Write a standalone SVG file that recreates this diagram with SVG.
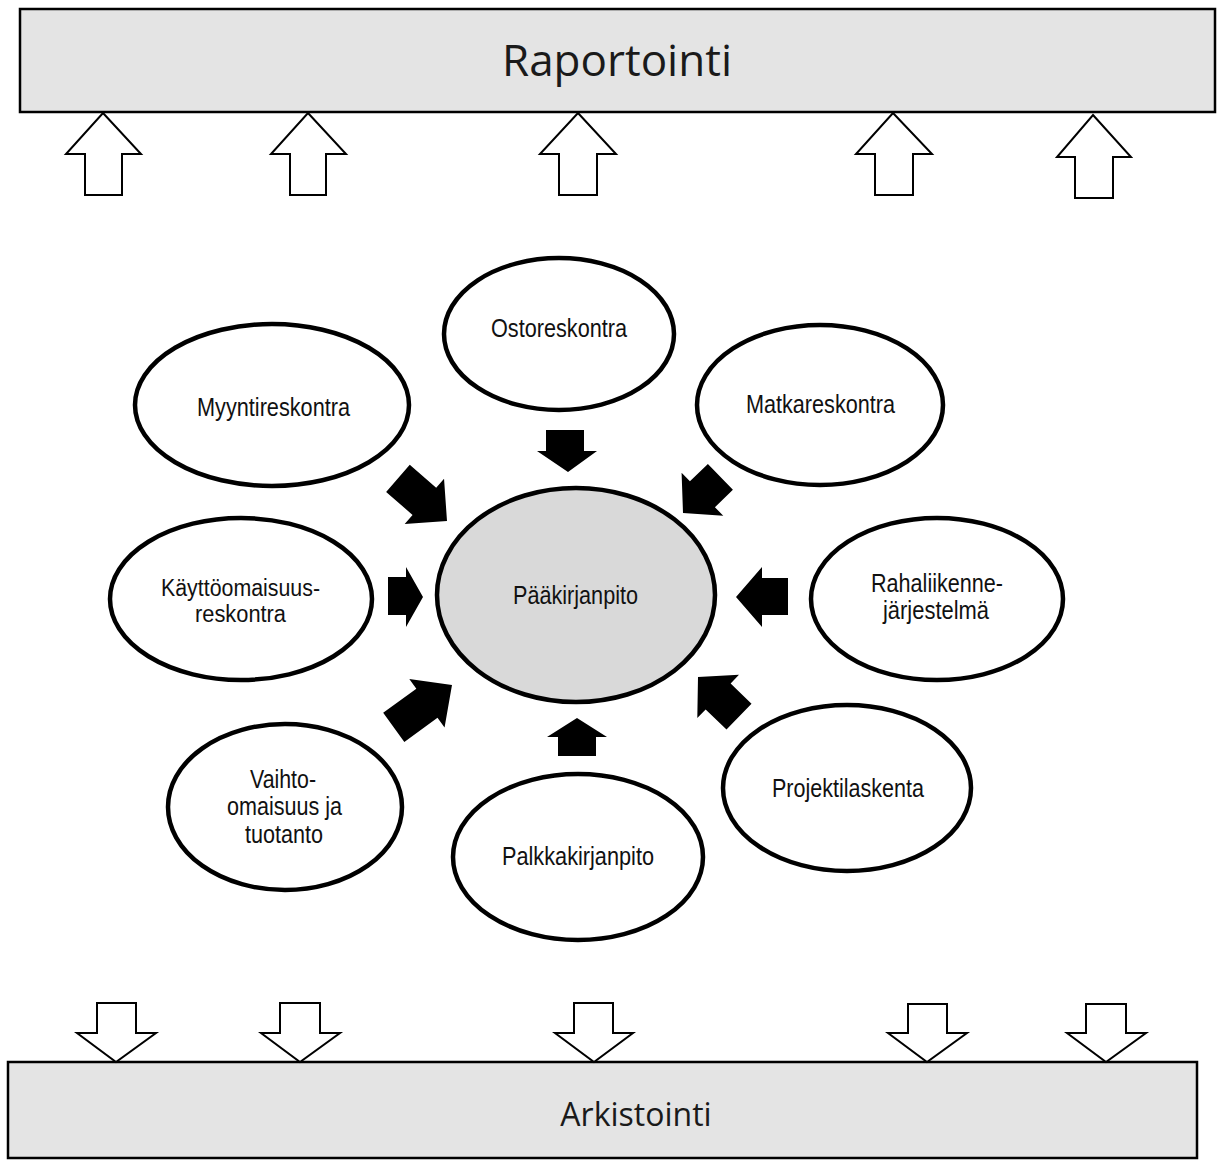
<svg xmlns="http://www.w3.org/2000/svg" width="1219" height="1167" viewBox="0 0 1219 1167">
  <style>
    .band { fill: #e4e4e4; stroke: #000; stroke-width: 2.5; }
    .band-label { font-family: "Open Sans", "Liberation Sans", sans-serif; fill: #1a1a1a; text-anchor: middle; }
    .hollow { fill: #fff; stroke: #000; stroke-width: 2; stroke-linejoin: miter; }
    .node { fill: #fff; stroke: #000; stroke-width: 4.5; }
    .hub { fill: #d9d9d9; stroke: #000; stroke-width: 4.5; }
    .label { font-family: "Liberation Sans", Arial, sans-serif; font-size: 25px; fill: #111; text-anchor: middle; }
    .label.tight { font-size: 23px; }
    .solid { fill: #000; stroke: none; }
  </style>

  <!-- top band -->
  <g id="raportointi">
    <rect class="band" x="20" y="9" width="1195" height="103"/>
    <text class="band-label" x="617" y="76" font-size="44">Raportointi</text>
  </g>

  <!-- bottom band -->
  <g id="arkistointi">
    <rect class="band" x="8" y="1062" width="1189" height="96"/>
    <text class="band-label" x="636" y="1126" font-size="32">Arkistointi</text>
  </g>

  <!-- hub -->
  <g id="paakirjanpito">
    <ellipse class="hub" cx="576" cy="595" rx="139" ry="107"/>
    <text class="label" x="575.5" y="604" textLength="125" lengthAdjust="spacingAndGlyphs">Pääkirjanpito</text>
  </g>

  <!-- satellite ledgers -->
  <g id="ostoreskontra">
    <ellipse class="node" cx="559" cy="334" rx="115" ry="76"/>
    <text class="label" x="559" y="337" textLength="136" lengthAdjust="spacingAndGlyphs">Ostoreskontra</text>
  </g>
  <g id="myyntireskontra">
    <ellipse class="node" cx="272" cy="405" rx="137" ry="81"/>
    <text class="label" x="273.5" y="416" textLength="153" lengthAdjust="spacingAndGlyphs">Myyntireskontra</text>
  </g>
  <g id="matkareskontra">
    <ellipse class="node" cx="820" cy="405" rx="123" ry="80"/>
    <text class="label" x="820.5" y="413" textLength="149" lengthAdjust="spacingAndGlyphs">Matkareskontra</text>
  </g>
  <g id="kayttoomaisuusreskontra">
    <ellipse class="node" cx="241" cy="599" rx="131" ry="81"/>
    <text class="label tight" x="240.5" y="596" textLength="159" lengthAdjust="spacingAndGlyphs">Käyttöomaisuus-</text>
    <text class="label tight" x="240.5" y="622" textLength="91" lengthAdjust="spacingAndGlyphs">reskontra</text>
  </g>
  <g id="rahaliikennejarjestelma">
    <ellipse class="node" cx="937" cy="599" rx="126" ry="81"/>
    <text class="label" x="937" y="592" textLength="132" lengthAdjust="spacingAndGlyphs">Rahaliikenne-</text>
    <text class="label" x="936" y="619" textLength="106" lengthAdjust="spacingAndGlyphs">järjestelmä</text>
  </g>
  <g id="vaihto-omaisuus">
    <ellipse class="node" cx="285" cy="807" rx="117" ry="83"/>
    <text class="label" x="283" y="788" textLength="66" lengthAdjust="spacingAndGlyphs">Vaihto-</text>
    <text class="label" x="284.5" y="815" textLength="115" lengthAdjust="spacingAndGlyphs">omaisuus ja</text>
    <text class="label" x="284" y="843" textLength="78" lengthAdjust="spacingAndGlyphs">tuotanto</text>
  </g>
  <g id="palkkakirjanpito">
    <ellipse class="node" cx="578" cy="857" rx="125" ry="83"/>
    <text class="label" x="578" y="865" textLength="152" lengthAdjust="spacingAndGlyphs">Palkkakirjanpito</text>
  </g>
  <g id="projektilaskenta">
    <ellipse class="node" cx="847" cy="788" rx="124" ry="83"/>
    <text class="label" x="848" y="797" textLength="152" lengthAdjust="spacingAndGlyphs">Projektilaskenta</text>
  </g>

  <g id="connectors">
    <!-- hollow arrows up into the reporting band -->
    <polygon class="hollow" points="103,113 141,154 122,154 122,195 85,195 85,154 66,154"/>
    <polygon class="hollow" points="308,113 346,154 326,154 326,195 290,195 290,154 271,154"/>
    <polygon class="hollow" points="578,113 616,154 597,154 597,195 559,195 559,154 540,154"/>
    <polygon class="hollow" points="893,113 932,154 913,154 913,195 875,195 875,154 856,154"/>
    <polygon class="hollow" points="1093,115 1131,157 1113,157 1113,198 1075,198 1075,157 1057,157"/>

    <!-- hollow arrows down into the archiving band -->
    <polygon class="hollow" points="97,1003 136,1003 136,1033 156,1033 116,1062 77,1033 97,1033"/>
    <polygon class="hollow" points="280,1003 320,1003 320,1033 340,1033 300,1062 261,1033 280,1033"/>
    <polygon class="hollow" points="574,1003 613,1003 613,1033 633,1033 594,1062 555,1033 574,1033"/>
    <polygon class="hollow" points="908,1004 947,1004 947,1033 967,1033 927,1062 888,1033 908,1033"/>
    <polygon class="hollow" points="1086,1004 1126,1004 1126,1033 1146,1033 1106,1062 1067,1033 1086,1033"/>

    <!-- solid arrows feeding the general ledger -->
    <polygon class="solid" points="546,430 584,430 584,451 597,451 568,472 537,451 546,451"/>
    <polygon class="solid" points="577,718 607,737 596,737 596,756 558,756 558,737 547,737"/>
    <polygon class="solid" points="388,577 406,577 406,567 423,597 406,627 406,615 388,615"/>
    <polygon class="solid" points="736,597 762,567 762,578 788,578 788,615 762,615 762,627"/>
    <polygon class="solid" transform="translate(447,521) rotate(41)" points="0,0 -30,-30 -30,-18 -65,-18 -65,18 -30,18 -30,30"/>
    <polygon class="solid" transform="translate(683,513) rotate(136)" points="0,0 -27,-30 -27,-18 -52,-18 -52,18 -27,18 -27,30"/>
    <polygon class="solid" transform="translate(452,685) rotate(-36)" points="0,0 -31,-30 -31,-18 -72,-18 -72,18 -31,18 -31,30"/>
    <polygon class="solid" transform="translate(698,677) rotate(-136)" points="0,0 -28,-30 -28,-18 -57,-18 -57,18 -28,18 -28,30"/>
  </g>
</svg>
